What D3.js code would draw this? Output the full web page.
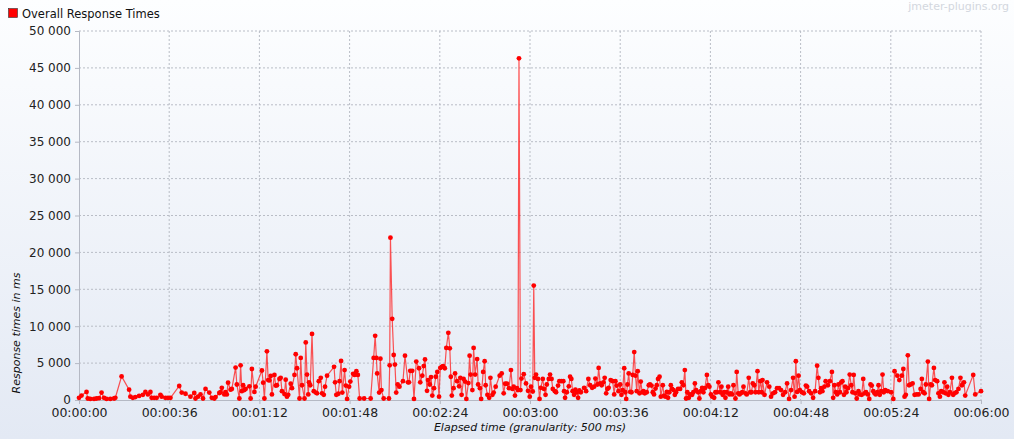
<!DOCTYPE html>
<html>
<head>
<meta charset="utf-8">
<script src="https://cdn.jsdelivr.net/npm/d3@7"></script>
<style>
  body { margin: 0; background: #fff; }
  svg { display: block; font-family: "DejaVu Sans", sans-serif; }
</style>
</head>
<body>
<div id="chart"></div>
<script>
// Overall response times, [elapsed seconds, response ms]
var samples = [
  [0,300],[1,600],[3,1100],[3.5,200],[4.5,150],[6,150],[7,200],[8,250],[9,1000],[10,300],
  [11,150],[12.5,150],[14,200],[14.5,300],[17,3200],[20,1400],[20.5,450],[21.5,300],[22.5,400],[24,550],
  [25.5,700],[26.5,1100],[27.5,750],[28.5,1100],[29,300],[30,300],[31,300],[32.5,700],[33,450],[34.5,300],
  [35.5,300],[36.5,300],[40,1900],[41,1000],[42.5,850],[44.5,450],[46,950],[46.5,200],[47.5,450],[48.5,750],
  [49.5,200],[50.5,1500],[52,1000],[53,300],[54,200],[54.5,400],[56,950],[56.5,1050],[57,1650],[58,750],
  [58.5,1050],[59,750],[59.5,2350],[60.5,1400],[61,1500],[62.5,4400],[63,2100],[64,200],[64.5,4700],[65,1200],
  [65.5,2000],[66,1350],[66.5,1500],[68,1850],[68.5,200],[69,4200],[70,1100],[70.5,1800],[73,4000],[73.5,2350],
  [74,200],[75,6600],[75.5,2700],[76,2650],[76.5,3250],[77,750],[78,3400],[78.5,1950],[79,2000],[80,2850],
  [80.5,3000],[81,1200],[82,800],[82.5,2750],[83,450],[83.5,700],[84.5,2200],[85,1600],[86,3400],[86.5,6200],
  [87,4300],[88,200],[88.5,5700],[89,2000],[90,200],[90.5,7800],[91,3450],[91.5,750],
  [91.8,2400],[92.3,2000],[93,8950],[93.7,1200],[94.5,1000],[95,900],[95.7,2550],[96.5,3000],[97,900],[97.7,700],
  [98.2,1800],[99,3300],[101.8,4500],[102.2,2400],[102.7,700],[103.5,850],[104,2550],[104.6,5300],[105.1,1000],[106,4050],
  [106.5,1950],[107,150],[107.8,1800],[108.3,2500],[109.4,3550],[110,3400],[110.7,3900],[111.3,3400],[112,200],[113.8,200],
  [116.4,200],[117.6,5700],[118.2,8700],[118.7,5700],[119,3600],[119.8,1000],[120.3,5600],[120.7,1350],[121.6,200],[123.7,200],
  [124,4700],[124.3,22000],[125,11000],[125.6,6100],[126.1,4800],[126.6,1000],[127.2,2100],[127.9,1800],[129.3,2550],[130.1,6000],
  [131.3,2400],[131.7,2400],[132.2,3950],[133,3950],[133.7,150],[134.6,5200],[135.7,4300],[136.2,2400],[137,3300],[137.6,4600],
  [138.1,5500],[138.9,1250],[139.3,2700],[140,2100],[140.5,3100],[141,600],[141.7,1600],[142.4,3150],[143,3800],[143.7,450],
  [144.2,4350],[144.8,4500],[145.3,4600],[146,4300],[146.6,7050],[147.4,9100],[148,7000],[148.4,3150],[148.8,600],[149.5,1600],
  [150.1,3600],[150.9,2550],[151.7,1850],[152.2,3000],[152.7,700],[153.5,2850],[154.1,2500],[154.6,150],[155.4,2300],[155.9,6000],
  [156.3,3450],[157,1350],[157.5,7050],[158.1,3450],[158.9,5550],[159.3,2100],[160,1600],[160.5,150],[161.3,3800],[161.9,5250],
  [162.3,2000],[163,700],[163.7,300],[164.2,3000],[165,700],[165.5,1000],[166.3,1800],[167.9,3300],[168.7,3600],[169.5,900],
  [170.1,2200],[170.8,2200],[171.6,1600],[172.4,4050],[173,1500],[173.5,1800],[174,600],[174.8,1600],[175.2,1350],[175.6,46300],
  [176.2,1350],[176.6,2900],[177.5,3500],[178.4,2250],[179.2,1250],[179.9,450],[180.4,1800],[181.1,1150],[181.5,15500],[181.9,3000],
  [182.4,3450],[183.2,2850],[183.8,150],[184.3,1650],[185.1,2850],[185.6,1500],[186.2,700],[186.7,2100],[187.5,2850],[188,3450],
  [188.6,2850],[189.1,1500],[189.9,1200],[190.4,1050],[191.2,1950],[191.7,2550],[192.5,2550],[193.3,2550],[193.6,1200],[194,300],
  [194.7,1050],[195.5,1850],[196,3150],[196.5,2850],[197,1200],[197.6,700],[198.1,1400],[198.7,1050],[199.2,300],[199.7,1300],
  [200.3,1050],[201.6,1650],[202.4,1200],[203.3,2850],[204,2000],[204.8,1650],[205.6,1800],[206.1,2900],[206.9,2100],[207.4,4350],
  [208,2250],[208.6,2000],[209.3,2400],[209.8,3000],[210.4,900],[210.9,1500],[211.4,1650],[212.2,2700],[213,2550],[213.6,750],
  [214.1,2550],[214.6,1950],[215.3,1200],[216,2100],[216.5,700],[217,1350],[217.6,4300],[218,1050],[218.4,150],[218.9,2100],
  [219.4,3600],[220,1100],[220.5,1050],[221,3400],[221.6,6500],[222.1,3300],[222.6,1200],[223,3900],[223.7,900],[224.2,2500],
  [224.8,1050],[225.3,1200],[225.8,900],[226.6,1050],[227.4,2000],[227.9,2100],[228.5,1950],[229,1050],[229.5,750],[230.1,1550],
  [230.6,2000],[231.1,2850],[231.7,3150],[232.2,450],[233,2000],[233.5,600],[234,450],[234.6,1100],[235.1,300],[235.6,1050],
  [236.2,2000],[236.7,1500],[237.3,1350],[237.8,700],[238.3,1050],[239.1,1500],[239.9,1500],[240.6,2400],[241.2,2000],[241.8,4050],
  [242.3,200],[242.8,1050],[243.4,300],[243.9,750],[244.7,700],[245.2,1050],[245.8,2250],[246.3,1350],[247.1,1050],[247.6,200],
  [248.2,1200],[248.7,1650],[249.2,1050],[249.8,1600],[250.6,3400],[251.1,2000],[251.6,1800],[252.2,750],[252.7,450],[253.5,300],
  [254,1050],[254.6,1050],[255.2,2400],[255.9,1050],[256.4,1800],[256.9,700],[257.5,1050],[258,300],[258.5,1050],[259.1,1800],
  [259.6,750],[260.1,900],[260.7,750],[261.2,2000],[262,200],[262.5,3800],[263.1,900],[263.6,750],[264.1,900],[264.7,1050],
  [265.2,1800],[266,900],[266.5,750],[267.3,3000],[267.9,1050],[268.4,1050],[268.9,2250],[269.5,2000],[270,1050],[270.8,3900],
  [271.3,1050],[271.9,2550],[272.5,1050],
  [272.8,2700],[273.6,700],[274.6,2400],[275.5,1800],[276.2,450],[277,900],[277.8,1050],[278.6,1600],[279.4,1600],[280.2,1350],
  [281,700],[281.8,1050],[282.6,2250],[283.4,150],[284.2,1350],[285,3000],[285.6,450],[286.1,5250],[286.6,1100],[287.2,3300],
  [287.7,1350],[288.5,1050],[289.3,900],[290.1,1950],[290.6,1800],[291.4,1200],[292.2,900],[293,300],[293.8,1200],[294.6,4650],
  [295.1,3000],[295.7,1050],[296.2,1600],[296.7,1200],[297.5,1800],[298,2550],[298.9,2000],[299.7,2550],[300.5,3800],[301,300],
  [301.5,2000],[302.1,1050],[302.6,750],[303.1,2100],[303.7,1050],[304.2,2400],[304.7,2550],[305.3,700],[305.8,1800],[306.3,1050],
  [306.9,1600],[307.6,3450],[308.2,2000],[308.7,1050],[309.2,3400],[309.8,900],[310.4,200],[311.1,1200],[311.6,750],[312.4,700],
  [313,2850],[313.5,900],[314.1,1050],[314.8,750],[315.4,150],[315.9,2100],[316.4,1950],[317,1200],[317.5,900],[318,750],
  [318.6,1050],[319.1,2000],[319.6,700],[320.2,1200],[320.7,3450],[321.2,1050],[321.8,1350],[322.8,1200],[324.1,1050],[325,150],
  [325.5,3900],[326.6,3300],[327.4,2700],[328.4,3300],[329,4200],[329.5,450],[330,700],[330.8,6050],[331.3,2000],[331.9,2100],
  [332.7,2250],[333.5,700],[334.3,750],[335.1,750],[335.9,1500],[336.4,2850],[336.9,1050],[337.5,900],[338,2100],[338.8,5200],
  [339.3,150],[339.9,2100],[340.4,2000],[341.2,4350],[341.7,2700],[342.5,2550],[343,900],[343.6,450],[344.1,1200],[344.9,1050],
  [345.4,2400],[345.9,900],[346.5,1800],[347,700],[347.6,1050],[348.4,3000],[348.9,700],[349.4,900],[350.2,1050],[351,1500],
  [351.8,3000],[352.4,2000],[353.2,2400],[353.7,600],[356.9,3400],[357.7,750],[360,1200]
];

var yTicks = [0, 5000, 10000, 15000, 20000, 25000, 30000, 35000, 40000, 45000, 50000];
var xTicks = [0, 36, 72, 108, 144, 180, 216, 252, 288, 324, 360];
var seriesName = "Overall Response Times";
var xTitle = "Elapsed time (granularity: 500 ms)";
var yTitle = "Response times in ms";

var W = 1014, H = 439;
var margin = { top: 31, right: 33, bottom: 39, left: 79 };
var width = W - margin.left - margin.right,
    height = H - margin.top - margin.bottom;

var svg = d3.select("#chart").append("svg")
    .attr("width", W)
    .attr("height", H);

var grad = svg.append("defs").append("linearGradient")
    .attr("id", "bg").attr("x1", 0).attr("y1", 0).attr("x2", 0).attr("y2", 1);
grad.append("stop").attr("offset", "0%").attr("stop-color", "#fdfeff");
grad.append("stop").attr("offset", "100%").attr("stop-color", "#e3e9f4");

svg.append("rect").attr("width", W).attr("height", H).attr("fill", "url(#bg)");

var x = d3.scaleLinear().domain([0, 360]).range([0, width]);
var y = d3.scaleLinear().domain([0, 50000]).range([height, 0]);

var g = svg.append("g")
    .attr("transform", "translate(" + margin.left + "," + margin.top + ")");

// grid
g.append("g").selectAll("line.gx")
    .data(xTicks.slice(1))
    .enter().append("line")
    .attr("x1", function (d) { return x(d); })
    .attr("x2", function (d) { return x(d); })
    .attr("y1", 0).attr("y2", height)
    .attr("stroke", "#b9bdc6").attr("stroke-dasharray", "2,2");

g.append("g").selectAll("line.gy")
    .data(yTicks.slice(1))
    .enter().append("line")
    .attr("x1", 0).attr("x2", width)
    .attr("y1", function (d) { return y(d); })
    .attr("y2", function (d) { return y(d); })
    .attr("stroke", "#b9bdc6").attr("stroke-dasharray", "2,2");

// axes
var fmtY = function (d) { return d3.format(",")(d).replace(/,/g, " "); };
var fmtX = function (s) {
    var hh = Math.floor(s / 3600), mm = Math.floor((s % 3600) / 60), ss = s % 60;
    return d3.format("02")(hh) + ":" + d3.format("02")(mm) + ":" + d3.format("02")(ss);
};

var yAxis = g.append("g")
    .call(d3.axisLeft(y).tickValues(yTicks).tickFormat(fmtY).tickSize(4).tickPadding(4));
var xAxis = g.append("g")
    .attr("transform", "translate(0," + height + ")")
    .call(d3.axisBottom(x).tickValues(xTicks).tickFormat(fmtX).tickSize(4).tickPadding(4));

[xAxis, yAxis].forEach(function (a) {
    a.select(".domain").attr("stroke", "#b5b9c4");
    a.selectAll(".tick line").attr("stroke", "#b5b9c4");
    a.selectAll(".tick text")
        .attr("fill", "#222")
        .style("font-family", "'DejaVu Sans', sans-serif")
        .style("font-size", "12px");
});
xAxis.selectAll(".tick text").style("font-size", "12.5px");

// series
var line = d3.line()
    .x(function (d) { return x(d[0]); })
    .y(function (d) { return y(d[1]); });

g.append("path")
    .datum(samples)
    .attr("fill", "none")
    .attr("stroke", "#ff1a1a")
    .attr("stroke-opacity", 0.75)
    .attr("stroke-width", 1.2)
    .attr("d", line);

g.selectAll("circle.pt")
    .data(samples)
    .enter().append("circle")
    .attr("class", "pt")
    .attr("cx", function (d) { return x(d[0]); })
    .attr("cy", function (d) { return y(d[1]); })
    .attr("r", 2.4)
    .attr("fill", "#ff0000");

// legend
svg.append("rect")
    .attr("x", 8.5).attr("y", 8.5).attr("width", 9).attr("height", 9)
    .attr("fill", "#ff0000").attr("stroke", "#333").attr("stroke-width", 0.6);
svg.append("text")
    .attr("x", 22).attr("y", 18)
    .style("font-size", "11.5px")
    .attr("fill", "#111")
    .text(seriesName);

// watermark
svg.append("text")
    .attr("x", 1009).attr("y", 10)
    .attr("text-anchor", "end")
    .style("font-size", "11px")
    .attr("fill", "#d3d7de")
    .text("jmeter-plugins.org");

// axis titles
svg.append("text")
    .attr("x", 530).attr("y", 431)
    .attr("text-anchor", "middle")
    .style("font-size", "11px")
    .style("font-style", "italic")
    .attr("fill", "#111")
    .text(xTitle);

svg.append("text")
    .attr("transform", "translate(20,333)rotate(-90)")
    .attr("text-anchor", "middle")
    .style("font-size", "11px")
    .style("font-style", "italic")
    .attr("fill", "#111")
    .text(yTitle);
</script>
</body>
</html>
